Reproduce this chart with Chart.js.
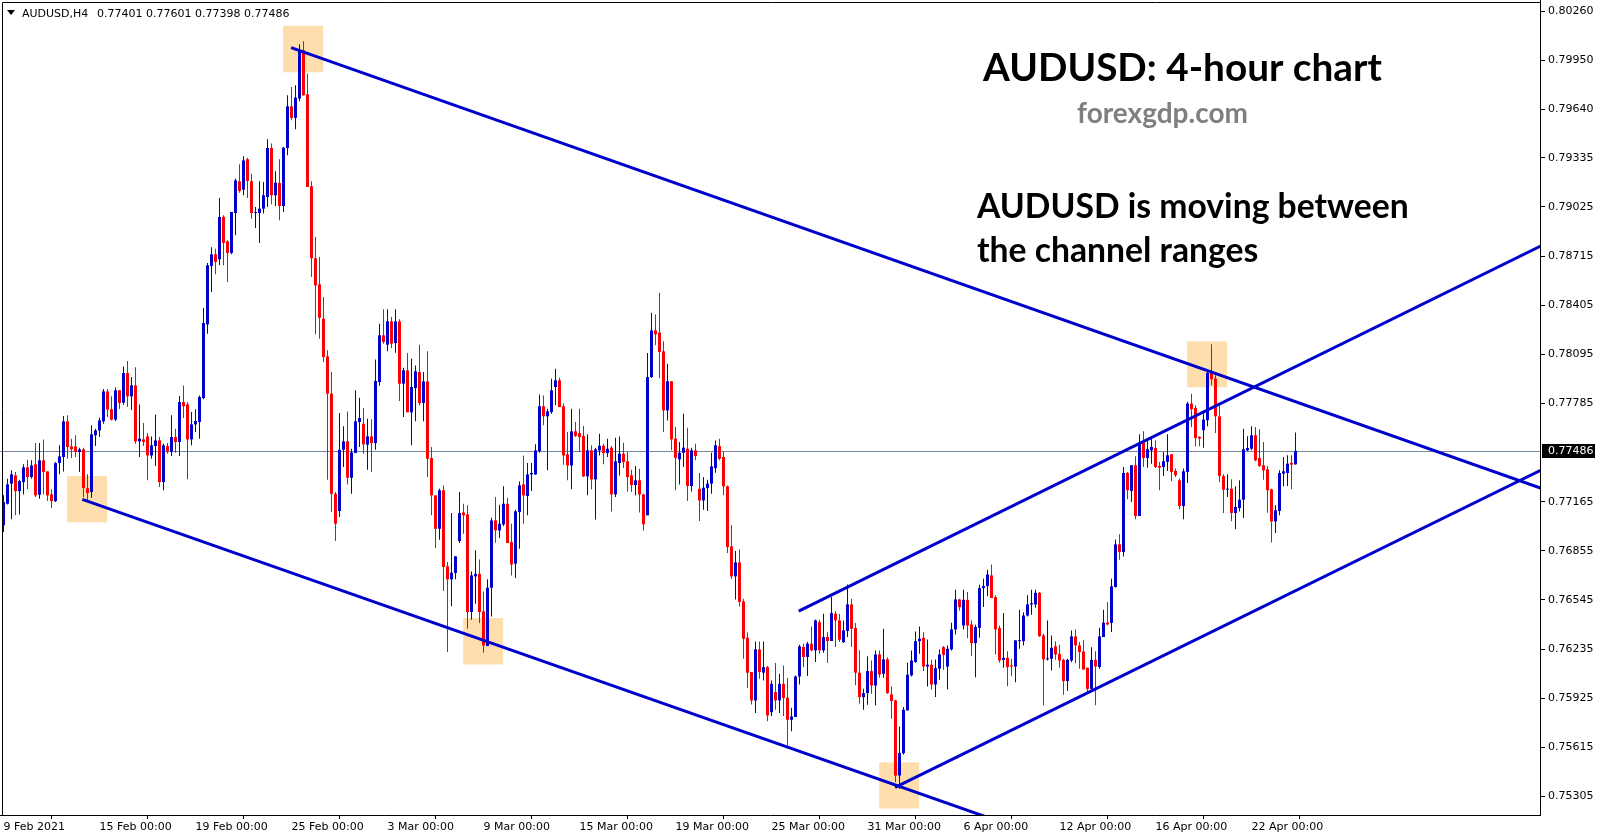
<!DOCTYPE html>
<html>
<head>
<meta charset="utf-8">
<title>AUDUSD H4</title>
<script src="https://cdn.jsdelivr.net/npm/chart.js@4.4.0/dist/chart.umd.min.js"></script>
<style>
  html, body { margin: 0; padding: 0; background: #fff; overflow: hidden; }
  #wrap { width: 1603px; height: 838px; }
</style>
</head>
<body>
<div id="wrap"><canvas id="myChart" width="1603" height="838"></canvas></div>
<script>
//AUDUSD H4 candles, one value per bar
var openPrices = [
  0.77016,0.77152,0.77279,0.77331,0.77232,0.77289,0.77382,0.77321,0.77401,0.77209,0.77426,0.77356,
  0.77211,0.77169,0.77409,0.77447,0.77672,0.77514,0.77514,0.77479,0.77495,0.77251,0.77226,0.77584,
  0.77615,0.77672,0.77861,0.77748,0.77683,0.77868,0.77790,0.77977,0.77830,0.77899,0.77546,0.77558,
  0.77577,0.77457,0.77516,0.77552,0.77289,0.77516,0.77479,0.77573,0.77542,0.77794,0.77779,0.77558,
  0.77653,0.77668,0.77819,0.78284,0.78652,0.78726,0.78695,0.78962,0.78808,0.78735,0.78987,0.79187,
  0.79134,0.79326,0.79187,0.78987,0.78987,0.79014,0.79088,0.79397,0.79099,0.79176,0.79031,0.79397,
  0.79660,0.79587,0.79709,0.80014,0.79736,0.79155,0.78701,0.78537,0.78320,0.78082,0.77847,0.77215,
  0.77106,0.77493,0.77546,0.77316,0.77472,0.77668,0.77657,0.77525,0.77577,0.77535,0.77920,0.78215,
  0.78156,0.78303,0.78166,0.78303,0.77910,0.77994,0.77729,0.77882,0.77983,0.77788,0.77924,0.77441,
  0.77205,0.76994,0.77237,0.76757,0.76675,0.76715,0.76917,0.77097,0.77085,0.76469,0.76694,0.76710,
  0.76473,0.76254,0.76622,0.77047,0.76984,0.77022,0.77152,0.76910,0.76774,0.77100,0.77274,0.77201,
  0.77337,0.77337,0.77485,0.77767,0.77704,0.77731,0.77889,0.77931,0.77767,0.77464,0.77394,0.77609,
  0.77598,0.77580,0.77325,0.77489,0.77306,0.77489,0.77518,0.77472,0.77506,0.77211,0.77409,0.77468,
  0.77420,0.77331,0.77270,0.77300,0.77211,0.77079,0.77952,0.78246,0.78232,0.78114,0.77741,0.77925,
  0.77563,0.77432,0.77474,0.77499,0.77264,0.77489,0.77247,0.77173,0.77251,0.77279,0.77377,0.77516,
  0.77447,0.77262,0.76883,0.76694,0.76782,0.76536,0.76307,0.76090,0.75911,0.76233,0.76086,0.76121,
  0.75837,0.75964,0.75911,0.76016,0.75928,0.75789,0.75806,0.76062,0.76248,0.76185,0.76269,0.76227,
  0.76405,0.76227,0.76311,0.76286,0.76458,0.76416,0.76279,0.76349,0.76517,0.76368,0.76086,0.75932,
  0.75957,0.76096,0.76005,0.76201,0.76079,0.76170,0.75949,0.75911,0.75437,0.75578,0.75848,0.76069,
  0.76153,0.76285,0.76306,0.76125,0.76136,0.76012,0.76111,0.76247,0.76125,0.76233,0.76359,0.76548,
  0.76384,0.76546,0.76390,0.76273,0.76369,0.76620,0.76632,0.76700,0.76563,0.76367,0.76167,0.76180,
  0.76132,0.76125,0.76285,0.76285,0.76447,0.76517,0.76517,0.76590,0.76321,0.76170,0.76174,0.76252,
  0.76205,0.76167,0.76033,0.76163,0.76315,0.76258,0.76220,0.76117,0.75984,0.76167,0.76122,0.76311,
  0.76402,0.76400,0.76627,0.76896,0.76848,0.77346,0.77233,0.77395,0.77075,0.77538,0.77441,0.77489,
  0.77504,0.77391,0.77384,0.77416,0.77464,0.77359,0.77300,0.77138,0.77353,0.77784,0.77757,0.77574,
  0.77616,0.77679,0.77978,0.77942,0.77704,0.77327,0.77241,0.77247,0.77094,0.77125,0.77178,0.77489,
  0.77500,0.77584,0.77441,0.77395,0.77369,0.77243,0.77041,0.77107,0.77342,0.77346,0.77410,0.77401
];
var highPrices = [
  0.77205,0.77310,0.77363,0.77352,0.77304,0.77401,0.77430,0.77426,0.77535,0.77535,0.77558,0.77356,
  0.77243,0.77415,0.77521,0.77706,0.77710,0.77563,0.77584,0.77506,0.77506,0.77338,0.77647,0.77626,
  0.77695,0.77876,0.77876,0.77830,0.77885,0.77868,0.78019,0.78053,0.77952,0.78013,0.77779,0.77662,
  0.77598,0.77577,0.77716,0.77573,0.77531,0.77535,0.77710,0.77626,0.77832,0.77899,0.77794,0.77731,
  0.77748,0.77836,0.78387,0.78671,0.78770,0.78762,0.79082,0.78972,0.78815,0.78993,0.79204,0.79294,
  0.79345,0.79336,0.79235,0.79025,0.79187,0.79183,0.79452,0.79425,0.79250,0.79326,0.79404,0.79730,
  0.79782,0.79793,0.80052,0.80071,0.79866,0.79187,0.78836,0.78709,0.78457,0.78120,0.77983,0.77226,
  0.77725,0.77641,0.77735,0.77499,0.77868,0.77821,0.77756,0.77689,0.77685,0.78063,0.78288,0.78379,
  0.78379,0.78330,0.78379,0.78316,0.78011,0.78103,0.78068,0.78025,0.78156,0.77983,0.78114,0.77510,
  0.77205,0.77247,0.77268,0.76784,0.77093,0.76822,0.77226,0.77152,0.77142,0.76725,0.76858,0.76801,
  0.76599,0.76675,0.77064,0.77194,0.77146,0.77262,0.77190,0.77026,0.77114,0.77293,0.77457,0.77409,
  0.77409,0.77527,0.77842,0.77836,0.77752,0.77941,0.78004,0.77948,0.77784,0.77605,0.77752,0.77668,
  0.77752,0.77643,0.77590,0.77521,0.77504,0.77594,0.77531,0.77563,0.77516,0.77569,0.77577,0.77537,
  0.77478,0.77367,0.77390,0.77373,0.77216,0.78103,0.78358,0.78347,0.78484,0.78177,0.78036,0.77925,
  0.77636,0.77542,0.77720,0.77632,0.77506,0.77531,0.77346,0.77321,0.77304,0.77474,0.77552,0.77563,
  0.77478,0.77268,0.77016,0.76854,0.76864,0.76553,0.76342,0.76090,0.76283,0.76283,0.76283,0.76128,
  0.76037,0.76147,0.76079,0.76132,0.76052,0.75865,0.76069,0.76262,0.76269,0.76279,0.76378,0.76422,
  0.76420,0.76458,0.76342,0.76563,0.76473,0.76458,0.76416,0.76643,0.76553,0.76399,0.76227,0.75985,
  0.76189,0.76163,0.76226,0.76226,0.76363,0.76184,0.75999,0.75915,0.75747,0.75869,0.76149,0.76226,
  0.76346,0.76378,0.76342,0.76296,0.76167,0.76170,0.76233,0.76254,0.76258,0.76401,0.76609,0.76552,
  0.76609,0.76595,0.76416,0.76388,0.76641,0.76679,0.76736,0.76769,0.76574,0.76384,0.76462,0.76222,
  0.76174,0.76290,0.76483,0.76468,0.76574,0.76609,0.76609,0.76595,0.76332,0.76416,0.76321,0.76285,
  0.76262,0.76174,0.76174,0.76353,0.76359,0.76279,0.76290,0.76117,0.76247,0.76222,0.76370,0.76484,
  0.76532,0.76679,0.76926,0.76959,0.77384,0.77353,0.77395,0.77452,0.77590,0.77609,0.77553,0.77563,
  0.77553,0.77416,0.77479,0.77590,0.77464,0.77374,0.77311,0.77374,0.77795,0.77847,0.77773,0.77578,
  0.77738,0.77996,0.78159,0.77963,0.77784,0.77338,0.77338,0.77306,0.77262,0.77300,0.77626,0.77578,
  0.77641,0.77637,0.77622,0.77542,0.77391,0.77247,0.77142,0.77363,0.77447,0.77458,0.77458,0.77601
];
var lowPrices = [
  0.76974,0.77148,0.77054,0.77079,0.77085,0.77211,0.77245,0.77310,0.77194,0.77184,0.77211,0.77169,
  0.77125,0.77163,0.77338,0.77356,0.77436,0.77441,0.77447,0.77352,0.77194,0.77173,0.77190,0.77516,
  0.77573,0.77657,0.77699,0.77678,0.77674,0.77750,0.77777,0.77763,0.77744,0.77531,0.77447,0.77516,
  0.77300,0.77436,0.77390,0.77258,0.77237,0.77468,0.77453,0.77474,0.77453,0.77693,0.77306,0.77521,
  0.77605,0.77563,0.77811,0.78225,0.78489,0.78600,0.78657,0.78657,0.78552,0.78726,0.78846,0.79115,
  0.79099,0.79082,0.78951,0.78892,0.78798,0.78983,0.79025,0.79042,0.79029,0.78941,0.78993,0.79351,
  0.79572,0.79515,0.79692,0.79726,0.79151,0.78583,0.78221,0.78194,0.78047,0.77304,0.77100,0.76917,
  0.77068,0.77384,0.77274,0.77215,0.77472,0.77510,0.77468,0.77367,0.77352,0.77493,0.77897,0.78162,
  0.78114,0.78135,0.78105,0.77800,0.77699,0.77729,0.77521,0.77672,0.77773,0.77672,0.77321,0.77079,
  0.76873,0.76925,0.76601,0.76216,0.76506,0.76675,0.76904,0.76963,0.76363,0.76420,0.76521,0.76399,
  0.76212,0.76254,0.76441,0.76906,0.76936,0.77011,0.76904,0.76700,0.76683,0.76868,0.77026,0.77079,
  0.77232,0.77335,0.77474,0.77647,0.77363,0.77720,0.77773,0.77762,0.77399,0.77300,0.77243,0.77573,
  0.77478,0.77321,0.77205,0.77243,0.77053,0.77457,0.77401,0.77447,0.77104,0.77194,0.77331,0.77377,
  0.77230,0.77226,0.77205,0.77097,0.76984,0.77079,0.77945,0.78152,0.77945,0.77605,0.77678,0.77489,
  0.77237,0.77274,0.77384,0.77169,0.77230,0.77426,0.77043,0.77114,0.77106,0.77216,0.77348,0.77426,
  0.77205,0.76841,0.76679,0.76548,0.76504,0.76174,0.75989,0.75886,0.75831,0.76048,0.76037,0.75780,
  0.75812,0.75852,0.75831,0.75812,0.75627,0.75717,0.75806,0.76012,0.76121,0.76065,0.76222,0.76153,
  0.76206,0.76212,0.76147,0.76286,0.76248,0.76279,0.76273,0.76311,0.76248,0.76006,0.75890,0.75852,
  0.75884,0.75953,0.75879,0.76054,0.76054,0.75953,0.75795,0.75395,0.75353,0.75570,0.75848,0.76062,
  0.76149,0.76205,0.76096,0.75999,0.75980,0.75932,0.76041,0.76104,0.75980,0.76226,0.76327,0.76479,
  0.76359,0.76304,0.76191,0.76058,0.76306,0.76500,0.76569,0.76557,0.76201,0.76149,0.76117,0.76001,
  0.76064,0.76026,0.76237,0.76258,0.76441,0.76452,0.76496,0.76311,0.75879,0.76163,0.76100,0.76167,
  0.76117,0.75947,0.75970,0.76153,0.76146,0.76111,0.76106,0.75963,0.75974,0.75880,0.76111,0.76311,
  0.76385,0.76343,0.76623,0.76799,0.76820,0.77180,0.77163,0.77054,0.77075,0.77384,0.77380,0.77405,
  0.77378,0.77237,0.77327,0.77359,0.77294,0.77321,0.77117,0.77054,0.77283,0.77637,0.77515,0.77515,
  0.77506,0.77641,0.77900,0.77599,0.77290,0.77094,0.77195,0.77041,0.76991,0.77104,0.77062,0.77485,
  0.77489,0.77420,0.77384,0.77304,0.77096,0.76907,0.76968,0.77079,0.77262,0.77264,0.77243,0.77398
];
var closePrices = [
  0.77163,0.77274,0.77338,0.77232,0.77295,0.77382,0.77321,0.77394,0.77205,0.77426,0.77352,0.77205,
  0.77169,0.77409,0.77451,0.77672,0.77510,0.77495,0.77479,0.77495,0.77251,0.77220,0.77590,0.77615,
  0.77678,0.77861,0.77746,0.77683,0.77868,0.77788,0.77977,0.77830,0.77899,0.77546,0.77563,0.77542,
  0.77457,0.77521,0.77552,0.77289,0.77521,0.77483,0.77573,0.77542,0.77794,0.77767,0.77558,0.77653,
  0.77674,0.77826,0.78293,0.78657,0.78726,0.78678,0.78962,0.78798,0.78735,0.78993,0.79193,0.79126,
  0.79319,0.79189,0.78987,0.78991,0.79014,0.79099,0.79397,0.79099,0.79178,0.79031,0.79399,0.79660,
  0.79587,0.79715,0.80014,0.79730,0.79151,0.78701,0.78530,0.78326,0.78078,0.77847,0.77215,0.77026,
  0.77493,0.77546,0.77316,0.77476,0.77672,0.77693,0.77527,0.77577,0.77535,0.77927,0.78215,0.78173,
  0.78303,0.78162,0.78303,0.77910,0.77994,0.77729,0.77889,0.77988,0.77788,0.77924,0.77436,0.77205,
  0.76994,0.77237,0.76753,0.76675,0.76717,0.76820,0.77093,0.77079,0.76469,0.76700,0.76710,0.76469,
  0.76258,0.76622,0.77047,0.76984,0.77026,0.77152,0.76904,0.76769,0.77104,0.77268,0.77205,0.77337,
  0.77346,0.77489,0.77767,0.77704,0.77735,0.77868,0.77931,0.77762,0.77457,0.77394,0.77609,0.77580,
  0.77573,0.77325,0.77489,0.77306,0.77495,0.77518,0.77472,0.77499,0.77211,0.77420,0.77468,0.77415,
  0.77321,0.77270,0.77300,0.77211,0.77022,0.77952,0.78246,0.78221,0.78110,0.77741,0.77925,0.77558,
  0.77441,0.77474,0.77506,0.77264,0.77489,0.77453,0.77173,0.77253,0.77279,0.77388,0.77521,0.77436,
  0.77262,0.76879,0.76694,0.76782,0.76532,0.76300,0.76086,0.75911,0.76233,0.76090,0.76121,0.75816,
  0.76016,0.75911,0.76016,0.75926,0.75789,0.75810,0.76062,0.76252,0.76185,0.76269,0.76227,0.76416,
  0.76227,0.76311,0.76286,0.76462,0.76416,0.76294,0.76353,0.76517,0.76363,0.76086,0.75932,0.75957,
  0.76096,0.76005,0.76201,0.76075,0.76170,0.75957,0.75907,0.75437,0.75580,0.75852,0.76073,0.76163,
  0.76285,0.76300,0.76125,0.76136,0.76012,0.76115,0.76201,0.76199,0.76237,0.76359,0.76548,0.76500,
  0.76546,0.76384,0.76273,0.76374,0.76620,0.76632,0.76706,0.76557,0.76359,0.76163,0.76180,0.76121,
  0.76125,0.76290,0.76290,0.76447,0.76517,0.76525,0.76590,0.76317,0.76170,0.76176,0.76243,0.76201,
  0.76163,0.76033,0.76167,0.76315,0.76258,0.76216,0.76106,0.75984,0.76167,0.76125,0.76315,0.76402,
  0.76391,0.76631,0.76896,0.76848,0.77346,0.77237,0.77395,0.77075,0.77538,0.77441,0.77496,0.77510,
  0.77384,0.77380,0.77420,0.77458,0.77353,0.77332,0.77138,0.77357,0.77784,0.77748,0.77567,0.77563,
  0.77683,0.77978,0.77938,0.77704,0.77327,0.77241,0.77247,0.77094,0.77132,0.77178,0.77496,0.77504,
  0.77584,0.77426,0.77391,0.77363,0.77237,0.77041,0.77111,0.77346,0.77357,0.77405,0.77399,0.77486
];

//time axis labels (every 24 bars)
var xTickIndex = [0, 24, 48, 72, 96, 120, 144, 168, 192, 216, 240, 264, 288, 312];
var xTickLabels = ["9 Feb 2021", "15 Feb 00:00", "19 Feb 00:00", "25 Feb 00:00", "3 Mar 00:00",
  "9 Mar 00:00", "15 Mar 00:00", "19 Mar 00:00", "25 Mar 00:00", "31 Mar 00:00",
  "6 Apr 00:00", "12 Apr 00:00", "16 Apr 00:00", "22 Apr 00:00"];

//price axis labels
var yTickValues = [0.80260, 0.79950, 0.79640, 0.79335, 0.79025, 0.78715, 0.78405, 0.78095,
  0.77785, 0.77165, 0.76855, 0.76545, 0.76235, 0.75925, 0.75615, 0.75305];

//trend lines: [bar index, price] anchor points
var fallingTop = [[71.9, 0.80030], [392, 0.77182]];
var fallingBottom = [[19.7, 0.77180], [260, 0.75049]];
var risingTop = [[198.8, 0.76475], [392, 0.78874]];
var risingBottom = [[222.9, 0.75362], [392, 0.77459]];

//highlighted touch points (bar index range, price range)
var zoneFrom = [69.9, 15.9, 114.9, 295.9, 218.9];
var zoneTo = [79.9, 25.9, 124.9, 305.9, 228.9];
var zoneHigh = [0.80168, 0.77327, 0.76431, 0.78177, 0.75520];
var zoneLow = [0.79875, 0.77035, 0.76138, 0.77887, 0.75229];

var symbolName = "AUDUSD,H4";
var titleText = "AUDUSD: 4-hour chart";
var siteText = "forexgdp.com";
var noteLines = ["AUDUSD is moving between", "the channel ranges"];

var upColor = "#0000CD";
var downColor = "#FF0000";
var lineColor = "#0000CD";
var axisFont = '"DejaVu Sans", sans-serif';
var lastBar = closePrices.length - 1;

//build candle pieces
var wickData = [];
var bodyData = [];
var candleColors = [];
closePrices.forEach(function(close, i){
  wickData.push({x: i, y: [lowPrices[i], highPrices[i]]});
  bodyData.push({x: i, y: [openPrices[i], close]});
  candleColors.push(close >= openPrices[i] ? upColor : downColor);
});

function trendLine(points){
  return {
    type: 'line',
    data: points.map(function(p){ return {x: p[0], y: p[1]}; }),
    borderColor: lineColor,
    borderWidth: 3,
    pointRadius: 0,
    fill: false,
    clip: 0,
    order: 0
  };
}

//draw text squeezed to a given width
function fitText(c, text, x, y, width, color, size){
  c.font = 'bold 100px "Lato", sans-serif';
  var s = size || 100 * width / c.measureText(text).width;
  c.font = 'bold ' + s + 'px "Lato", sans-serif';
  c.fillStyle = color;
  c.fillText(text, x, y);
  return s;
}

//keep the plot flush with the canvas edges
function noPadding(scale){
  scale.paddingTop = 0;
  scale.paddingBottom = 0;
  scale.paddingLeft = 0;
  scale.paddingRight = 0;
}

var decor = {
  id: 'decor',
  beforeDatasetsDraw: function(chart){
    var c = chart.ctx, xs = chart.scales.x, ys = chart.scales.y, a = chart.chartArea;
    c.save();
    c.beginPath();
    c.rect(a.left, a.top, a.right - a.left, a.bottom - a.top);
    c.clip();
    //touch point boxes
    c.fillStyle = "#FFDEAD";
    for (var k = 0; k < zoneFrom.length; k++) {
      var x1 = xs.getPixelForValue(zoneFrom[k]);
      var x2 = xs.getPixelForValue(zoneTo[k]);
      var y1 = ys.getPixelForValue(zoneHigh[k]);
      var y2 = ys.getPixelForValue(zoneLow[k]);
      c.fillRect(x1, y1, x2 - x1, y2 - y1);
    }
    //bid line
    var by = Math.round(ys.getPixelForValue(closePrices[lastBar])) + 0.5;
    c.strokeStyle = "#778899";
    c.lineWidth = 1;
    c.beginPath();
    c.moveTo(a.left, by);
    c.lineTo(a.right, by);
    c.stroke();
    c.restore();
  },
  afterDraw: function(chart){
    var c = chart.ctx, ys = chart.scales.y, a = chart.chartArea;
    c.save();
    //frame
    c.strokeStyle = "#000";
    c.lineWidth = 1;
    c.beginPath();
    c.moveTo(2.5, a.bottom);
    c.lineTo(2.5, 2.5);
    c.lineTo(a.right, 2.5);
    c.stroke();

    //current price tag
    var py = ys.getPixelForValue(closePrices[lastBar]);
    c.fillStyle = "#000";
    c.fillRect(a.right + 2, Math.round(py) - 7, 53, 14);
    c.fillStyle = "#fff";
    c.font = '11px ' + axisFont;
    c.textBaseline = 'middle';
    c.fillText(closePrices[lastBar].toFixed(5), a.right + 8, py + 0.5);

    //header
    c.fillStyle = "#000";
    c.beginPath();
    c.moveTo(7, 10);
    c.lineTo(15, 10);
    c.lineTo(11, 15);
    c.closePath();
    c.fill();
    c.textBaseline = 'alphabetic';
    c.fillText(symbolName, 22, 17);
    var ohlc = [openPrices[lastBar], highPrices[lastBar], lowPrices[lastBar], closePrices[lastBar]];
    c.fillText(ohlc.map(function(v){ return v.toFixed(5); }).join(" "), 97, 17);

    //titles
    fitText(c, titleText, 983, 81, 399, "#000");
    fitText(c, siteText, 1077, 123, 171, "#7F7F7F");
    var s = fitText(c, noteLines[0], 977, 218, 432, "#000");
    fitText(c, noteLines[1], 977, 262, 0, "#000", s);
    c.restore();
  }
};

var ctx = document.getElementById("myChart");

var myChart = new Chart(ctx, {
  type: 'bar',
  data: {
    datasets: [
      trendLine(fallingTop),
      trendLine(fallingBottom),
      trendLine(risingTop),
      trendLine(risingBottom),
      {
        type: 'bar',
        data: bodyData,
        backgroundColor: candleColors,
        barThickness: 3,
        grouped: false,
        minBarLength: 1,
        inflateAmount: 0,
        borderWidth: 0,
        order: 1
      },
      {
        type: 'bar',
        data: wickData,
        backgroundColor: candleColors,
        barThickness: 1,
        grouped: false,
        minBarLength: 1,
        inflateAmount: 0,
        borderWidth: 0,
        order: 2
      }
    ]
  },
  options: {
    responsive: false,
    devicePixelRatio: 1,
    animation: false,
    events: [],
    layout: { padding: 0, autoPadding: false },
    plugins: {
      legend: { display: false },
      tooltip: { enabled: false }
    },
    scales: {
      x: {
        type: 'linear',
        min: -0.875,
        max: 384.125,
        offset: false,
        grid: { drawOnChartArea: false, drawTicks: true, tickLength: 4, color: "#000" },
        border: { display: true, color: "#000" },
        ticks: {
          autoSkip: false,
          maxRotation: 0,
          align: 'start',
          padding: 2,
          color: "#000",
          font: { family: axisFont, size: 11 },
          callback: function(v, idx){ return xTickLabels[idx]; }
        },
        afterBuildTicks: function(scale){
          scale.ticks = xTickIndex.map(function(v){ return {value: v}; });
        },
        afterFit: function(scale){
          scale.height = 23;
          noPadding(scale);
        }
      },
      y: {
        position: 'right',
        min: 0.75188,
        max: 0.80331,
        beginAtZero: false,
        grid: { drawOnChartArea: false, tickLength: 5, color: "#000" },
        border: { display: true, color: "#000" },
        ticks: {
          padding: 3,
          color: "#000",
          font: { family: axisFont, size: 11 },
          callback: function(v){ return Number(v).toFixed(5); }
        },
        afterBuildTicks: function(scale){
          scale.ticks = yTickValues.map(function(v){ return {value: v}; });
        },
        afterFit: function(scale){
          scale.width = 63;
          noPadding(scale);
        }
      }
    }
  },
  plugins: [decor]
});
</script>
</body>
</html>
